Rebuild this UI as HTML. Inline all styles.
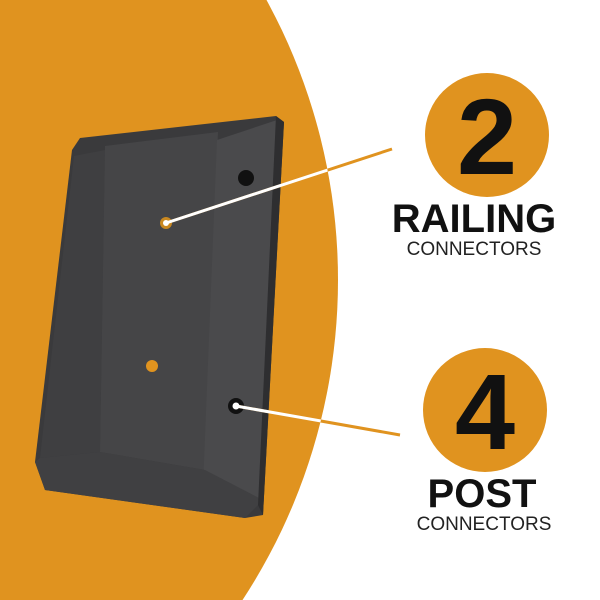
<!DOCTYPE html>
<html><head><style>
html,body{margin:0;padding:0;width:600px;height:600px;overflow:hidden;background:#fff;font-family:"Liberation Sans",sans-serif}
svg{display:block}
</style></head><body>
<svg width="600" height="600" viewBox="0 0 600 600" xmlns="http://www.w3.org/2000/svg">
<defs><clipPath id="c"><circle cx="-246" cy="280" r="584"/></clipPath></defs>
<rect width="600" height="600" fill="#fff"/>
<circle cx="-246" cy="280" r="584" fill="#E0931F"/>
<!-- bracket -->
<polygon points="72,150 80,138 276,116 284,122 263,515 245,518 45,490 35,462" fill="#3a3a3c"/>
<polygon points="74,156 105,150 100,452 40,458" fill="#3f3f41"/>
<polygon points="105,146 218,132 205,470 100,452" fill="#454547"/>
<polygon points="217,140 277,120 263,500 203,487" fill="#4a4a4c"/>
<polygon points="40,458 100,452 205,470 263,500 245,518 45,490 35,462" fill="#404042"/>
<polygon points="276,116 284,122 263,515 258,505" fill="#2e2e30"/>
<circle cx="246" cy="178" r="8" fill="#111"/>
<circle cx="166" cy="223" r="6" fill="#c98820"/>
<circle cx="152" cy="366" r="6" fill="#E0931F"/>
<circle cx="236" cy="406" r="8" fill="#111"/>
<line x1="166" y1="223" x2="392" y2="149" stroke="#E0931F" stroke-width="3"/>
<line x1="236" y1="406" x2="400" y2="435" stroke="#E0931F" stroke-width="3"/>
<g clip-path="url(#c)">
<line x1="166" y1="223" x2="392" y2="149" stroke="#fff" stroke-width="3"/>
<line x1="236" y1="406" x2="400" y2="435" stroke="#fff" stroke-width="3"/>
</g>
<circle cx="166" cy="223" r="3" fill="#fff"/>
<circle cx="236" cy="406" r="3.5" fill="#fff"/>
<!-- right -->
<circle cx="487" cy="135" r="62" fill="#E0931F"/>
<text x="487" y="174" text-anchor="middle" font-size="108" font-weight="bold" fill="#111">2</text>
<text x="474" y="232" text-anchor="middle" font-size="40" font-weight="bold" fill="#111">RAILING</text>
<text x="474" y="255" text-anchor="middle" font-size="19" fill="#222">CONNECTORS</text>
<circle cx="485" cy="410" r="62" fill="#E0931F"/>
<text x="485" y="449" text-anchor="middle" font-size="108" font-weight="bold" fill="#111">4</text>
<text x="482" y="507" text-anchor="middle" font-size="40" font-weight="bold" fill="#111">POST</text>
<text x="484" y="530" text-anchor="middle" font-size="19" fill="#222">CONNECTORS</text>
</svg>
</body></html>
